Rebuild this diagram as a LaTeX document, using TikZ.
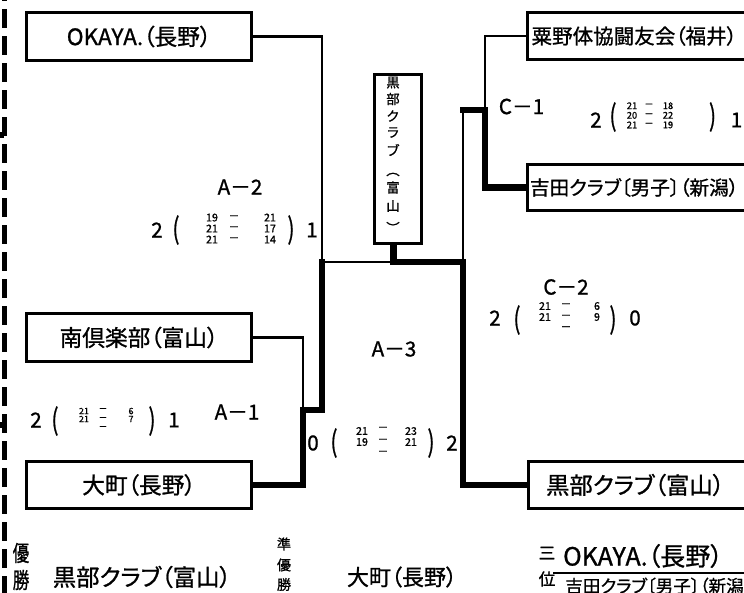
\documentclass[tikz,border=0pt]{standalone}
\usepackage{fontspec}
\usepackage{graphicx}
\newfontfamily\jp[RawFeature=+palt,FakeBold=1]{Noto Sans CJK JP}
\newfontfamily\jpw[FakeBold=1]{Noto Sans CJK JP}
\pgfdeclarelayer{bg}
\pgfsetlayers{bg,main}
\tikzset{
  bt/.style={inner sep=0pt, font=\jp\fontsize{#1}{#1}\selectfont},
  btw/.style={inner sep=0pt, font=\jpw\fontsize{#1}{#1}\selectfont},
  box/.style={draw, line width=2.25pt, fill=white, inner sep=0pt, minimum width=168.75pt, minimum height=36pt},
  rbox/.style={fill=white, inner sep=0pt, minimum width=160.1pt, minimum height=35.25pt},
  bline/.style={line width=2.25pt},
  thinln/.style={line width=2pt, line cap=rect},
  thickln/.style={line width=4.7pt, line cap=rect},
  lab/.style={inner sep=0pt, font=\jp\fontsize{15.5}{15.5}\selectfont},
  num/.style={inner sep=0pt, font=\jp\fontsize{15.5}{15.5}\selectfont},
  col/.style={inner sep=0pt, align=center, font=\jp\fontsize{8}{#1}\selectfont},
  ccol/.style={inner sep=0pt, align=center, font=\jp\fontsize{7}{#1}\selectfont},
  scol/.style={inner sep=0pt, align=center, font=\jp\fontsize{6.6}{#1}\selectfont},
  vt/.style={inner sep=0pt, font=\jpw\fontsize{10}{10}\selectfont},
}
\newcommand{\tallp}[1]{\scalebox{1}[1.4]{#1}}
\begin{document}
\begin{tikzpicture}[x=0.75pt,y=-0.75pt]
\useasboundingbox (0,0) rectangle (744,593);
\clip (0,0) rectangle (744,593);

% left dashed rule
\draw[line width=3.75pt, dash pattern=on 14.25pt off 6pt] (4.2,-18) -- (4.2,610);
\fill (0,132) rectangle (4,138);
\fill (0,422) rectangle (4,428);

% team boxes (left, closed)
\node[box, bt=17] (okaya) at (139,36.5) {OKAYA.（長野）};
\node[box, bt=17] (minami) at (139,337.5) {南倶楽部（富山）};
\node[box, bt=17, minimum height=35.25pt] (omachi) at (139,485) {大町（長野）};
% team boxes (right, running off the edge)
\coordinate (edge) at (747,0);
\node[rbox, bt=15.4] (awano) at (634.25,36) {粟野体協闘友会（福井）};
\node[rbox, bt=14.7, minimum height=34.5pt] (yoshida) at (634.25,187.5) {吉田クラブ〔男子〕（新潟）};
\node[rbox, bt=17.5] (kurobeR) at (635.25,485) {黒部クラブ（富山）};
\foreach \b in {awano,yoshida,kurobeR}
  \draw[bline] (\b.north -| edge) -- (\b.north west) -- (\b.south west) -- (\b.south -| edge);
% vertical box
\node[box, minimum width=35.25pt, minimum height=126.75pt] (vbox) at (398,159) {};
\foreach \c/\yy [count=\i] in {黒/82.5, 部/99, ク/116, ラ/132.5, ブ/150, ︵/174.5, 富/187.5, 山/206, ︶/227.5}
  \node[vt] (v\i) at (393,\yy) {\c};

% connectors
\begin{pgfonlayer}{bg}
\coordinate (jA2) at (322,262);
\coordinate (jA1) at (303,410);
\coordinate (jC) at (393.5,262);
\coordinate (jF) at (463,262);
\coordinate (jC1) at (463,110);
\coordinate (jC1r) at (485,110);
\draw[thinln] (okaya.east) -| (jA2);
\draw[thinln] (minami.east) -| (jA1);
\draw[thickln] (omachi.east) -| (jA1) -| (jA2);
\draw[thinln] (jA2) -- (jC);
\draw[thickln] (vbox.south -| jC) -- (jC) -- (jF) |- (kurobeR.west);
\draw[thinln] (jF) -- (jC1);
\draw[thickln] (jC1) -- (jC1r) |- (yoshida.west);
\draw[thinln] (awano.west) -| (jC1r);
\end{pgfonlayer}

% match labels
\node[lab] (lA2) at (240,187) {A－2};
\node[lab] (lC1) at (521.5,106.5) {C－1};
\node[lab] (lC2) at (566,287) {C－2};
\node[lab] (lA3) at (394,349) {A－3};
\node[lab] (lA1) at (237,412) {A－1};

% A-2 score
\node[num] (a2n1) at (157,230) {2};
\node[num] (a2p1) at (176,230) {\tallp{(}};
\node[col=8.25pt] (a2l) at (212,228.5) {19\\21\\21};
\node[col=8.25pt] (a2d) at (234,228.5) {－\\－\\－};
\node[col=8.25pt] (a2r) at (270,228.5) {21\\17\\14};
\node[num] (a2p2) at (291,230) {\tallp{)}};
\node[num] (a2n2) at (312,230) {1};

% C-1 score
\node[num] (c1n1) at (596,120) {2};
\node[num] (c1p1) at (613,117) {\tallp{(}};
\node[ccol=7.2pt] (c1l) at (632,115.3) {21\\20\\21};
\node[ccol=7.2pt] (c1d) at (649,115.3) {－\\－\\－};
\node[ccol=7.2pt] (c1r) at (668,115.3) {18\\22\\19};
\node[num] (c1p2) at (712.5,117) {\tallp{)}};
\node[num] (c1n2) at (736.5,120) {1};

% C-2 score
\node[num] (c2n1) at (495,318) {2};
\node[num] (c2p1) at (517,320) {\tallp{(}};
\node[col=8.25pt] (c2l) at (545,311.5) {21\\21};
\node[col=8.6pt] (c2d) at (566,317) {－\\－\\－};
\node[col=8.25pt] (c2r) at (597,311.5) {6\\9};
\node[num] (c2p2) at (613,320) {\tallp{)}};
\node[num] (c2n2) at (635,318) {0};

% A-3 score
\node[num] (a3n1) at (313,443) {0};
\node[num] (a3p1) at (334,443) {\tallp{(}};
\node[col=8.25pt] (a3l) at (362,436.5) {21\\19};
\node[col=9pt] (a3d) at (383,441) {－\\－\\－};
\node[col=8.25pt] (a3r) at (411,436.5) {23\\21};
\node[num] (a3p2) at (431,443) {\tallp{)}};
\node[num] (a3n2) at (452,443) {2};

% A-1 score
\node[num] (a1n1) at (36,420) {2};
\node[num] (a1p1) at (55,421) {\tallp{(}};
\node[scol=6pt] (a1l) at (84,415) {21\\21};
\node[scol=6.75pt] (a1d) at (103,419) {－\\－\\－};
\node[scol=6pt] (a1r) at (131,415) {6\\7};
\node[num] (a1p2) at (152,421) {\tallp{)}};
\node[num] (a1n2) at (174,420) {1};

% results
\node[bt=16.5] (yu1) at (21,553) {\scalebox{0.75}[1]{優}};
\node[bt=16.5] (yu2) at (21,580) {\scalebox{0.75}[1]{勝}};
\node[bt=17.5] (win) at (142,577) {黒部クラブ（富山）};
\node[bt=10.5] (ju1) at (284,544) {準};
\node[bt=10.5] (ju2) at (284,565) {優};
\node[bt=10.5] (ju3) at (284,584.5) {勝};
\node[bt=16.5] (run) at (402,577) {大町（長野）};
\node[bt=12.5] (san1) at (547,553) {三};
\node[bt=12.5] (san2) at (547,579) {位};
\node[bt=18.8] (th1) at (643,556) {OKAYA.（長野）};
\coordinate (ulA) at (553,573);
\coordinate (ulB) at (746,573);
\draw[line width=1pt] (ulA) -- (ulB);
\node[bt=13.2, anchor=west] (th2) at (565,586) {吉田クラブ〔男子〕（新潟};
\end{tikzpicture}
\end{document}
